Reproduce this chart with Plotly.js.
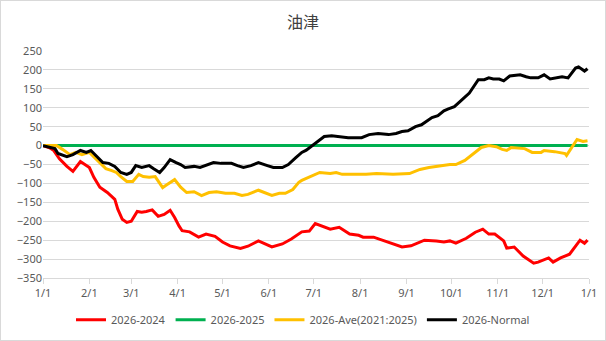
<!DOCTYPE html>
<html>
<head>
<meta charset="utf-8">
<script src="https://cdn.plot.ly/plotly-3.0.1.min.js"></script>
<style>
html,body{margin:0;padding:0;background:#fff;}
#wrap{position:relative;width:606px;height:341px;}
#chart{width:606px;height:341px;}
#frame{position:absolute;left:0;top:0;width:604px;height:339px;border:1px solid #d9d9d9;pointer-events:none;}
</style>
</head>
<body>
<div id="wrap"><div id="chart"></div><div id="frame"></div></div>
<script>
// ---- data ----
const chartTitle = "油津";
const seriesNames = ["2026-2024", "2026-2025", "2026-Ave(2021:2025)", "2026-Normal"];

const redDates = ["2026-01-01","2026-01-05","2026-01-08","2026-01-12","2026-01-17","2026-01-21","2026-01-26","2026-02-01","2026-02-04","2026-02-08","2026-02-13","2026-02-18","2026-02-20","2026-02-23","2026-02-26","2026-03-01","2026-03-05","2026-03-08","2026-03-11","2026-03-15","2026-03-19","2026-03-23","2026-03-27","2026-03-30","2026-04-02","2026-04-04","2026-04-09","2026-04-15","2026-04-20","2026-04-26","2026-05-01","2026-05-06","2026-05-13","2026-05-18","2026-05-25","2026-06-01","2026-06-03","2026-06-10","2026-06-16","2026-06-23","2026-06-28","2026-07-02","2026-07-07","2026-07-12","2026-07-18","2026-07-25","2026-07-31","2026-08-03","2026-08-10","2026-08-17","2026-08-24","2026-08-29","2026-09-04","2026-09-08","2026-09-13","2026-09-21","2026-09-26","2026-09-30","2026-10-04","2026-10-11","2026-10-17","2026-10-22","2026-10-26","2026-10-30","2026-11-05","2026-11-07","2026-11-12","2026-11-18","2026-11-25","2026-11-28","2026-12-05","2026-12-08","2026-12-13","2026-12-19","2026-12-26","2026-12-29","2026-12-31"];
const redValues = [0,-5,-12,-35,-55,-68,-42,-58,-84,-110,-124,-142,-168,-195,-203,-200,-174,-176,-174,-170,-187,-182,-171,-190,-213,-225,-228,-242,-234,-240,-255,-265,-272,-266,-252,-266,-268,-260,-247,-228,-226,-206,-213,-221,-216,-234,-237,-242,-242,-252,-260,-268,-265,-258,-250,-252,-255,-252,-258,-245,-229,-221,-234,-234,-252,-271,-268,-292,-311,-308,-297,-308,-297,-287,-250,-258,-250];

const greenDates = ["2026-01-01","2026-12-31"];
const greenValues = [0,0];

const orangeDates = ["2026-01-01","2026-01-10","2026-01-14","2026-01-19","2026-01-23","2026-01-27","2026-02-01","2026-02-03","2026-02-08","2026-02-12","2026-02-16","2026-02-19","2026-02-22","2026-02-26","2026-03-02","2026-03-06","2026-03-09","2026-03-13","2026-03-17","2026-03-22","2026-03-25","2026-03-30","2026-04-03","2026-04-07","2026-04-12","2026-04-17","2026-04-22","2026-04-27","2026-05-03","2026-05-09","2026-05-14","2026-05-18","2026-05-25","2026-05-29","2026-06-03","2026-06-08","2026-06-12","2026-06-17","2026-06-21","2026-06-23","2026-06-29","2026-07-02","2026-07-05","2026-07-12","2026-07-16","2026-07-20","2026-08-05","2026-08-12","2026-08-23","2026-09-03","2026-09-10","2026-09-16","2026-09-23","2026-09-30","2026-10-04","2026-10-10","2026-10-21","2026-10-26","2026-10-31","2026-11-04","2026-11-07","2026-11-10","2026-11-19","2026-11-24","2026-11-30","2026-12-02","2026-12-09","2026-12-16","2026-12-17","2026-12-24","2026-12-28","2026-12-31"];
const orangeValues = [0,0,-10,-24,-18,-24,-18,-26,-45,-61,-66,-71,-82,-95,-95,-76,-82,-84,-82,-111,-103,-90,-110,-124,-122,-132,-124,-122,-126,-126,-132,-129,-118,-124,-132,-126,-126,-116,-97,-92,-82,-76,-71,-74,-71,-76,-76,-74,-76,-74,-63,-58,-53,-50,-50,-39,-5,0,-3,-10,-13,-5,-8,-18,-18,-13,-16,-21,-26,16,11,13];

const blackDates = ["2026-01-01","2026-01-05","2026-01-09","2026-01-11","2026-01-17","2026-01-21","2026-01-26","2026-01-30","2026-02-02","2026-02-06","2026-02-10","2026-02-14","2026-02-18","2026-02-22","2026-02-26","2026-03-01","2026-03-04","2026-03-08","2026-03-13","2026-03-16","2026-03-20","2026-03-23","2026-03-27","2026-03-31","2026-04-03","2026-04-06","2026-04-12","2026-04-16","2026-04-21","2026-04-25","2026-04-30","2026-05-07","2026-05-11","2026-05-15","2026-05-20","2026-05-25","2026-05-31","2026-06-04","2026-06-10","2026-06-14","2026-06-19","2026-06-23","2026-06-26","2026-06-29","2026-07-03","2026-07-08","2026-07-13","2026-07-19","2026-07-24","2026-08-02","2026-08-07","2026-08-13","2026-08-20","2026-08-25","2026-08-29","2026-09-02","2026-09-07","2026-09-11","2026-09-18","2026-09-22","2026-09-26","2026-09-29","2026-10-03","2026-10-08","2026-10-13","2026-10-19","2026-10-23","2026-10-26","2026-10-29","2026-11-02","2026-11-05","2026-11-09","2026-11-16","2026-11-20","2026-11-23","2026-11-28","2026-12-02","2026-12-06","2026-12-11","2026-12-14","2026-12-18","2026-12-23","2026-12-25","2026-12-29","2026-12-31"];
const blackValues = [0,-5,-8,-21,-29,-24,-13,-18,-13,-29,-45,-47,-55,-71,-76,-71,-53,-58,-53,-61,-71,-58,-37,-45,-50,-58,-55,-58,-50,-45,-47,-47,-53,-58,-53,-45,-53,-58,-58,-50,-32,-18,-12,-3,11,24,26,24,21,21,29,32,29,32,37,39,50,55,74,79,92,97,103,121,139,174,174,179,176,176,171,184,187,182,179,179,187,176,179,182,179,205,208,197,203];

const tickDates = ["2026-01-01","2026-02-01","2026-03-01","2026-04-01","2026-05-01","2026-06-01","2026-07-01","2026-08-01","2026-09-01","2026-10-01","2026-11-01","2026-12-01","2027-01-01"];
const tickLabels = ["1/1","2/1","3/1","4/1","5/1","6/1","7/1","8/1","9/1","10/1","11/1","12/1","1/1"];
const seriesColors = ["#FF0000","#00B050","#FFC000","#000000"];

// ---- traces ----
const xs = [redDates, greenDates, orangeDates, blackDates];
const ys = [redValues, greenValues, orangeValues, blackValues];
const traces = seriesNames.map((n, i) => ({
  type: "scatter", mode: "lines", name: n,
  x: xs[i], y: ys[i],
  line: {color: seriesColors[i], width: 3}
}));
// draw order: green under others
const order = [1, 0, 2, 3];
const drawn = order.map(i => traces[i]);

const layout = {
  width: 606, height: 341,
  margin: {l: 43, r: 17, t: 51, b: 63},
  paper_bgcolor: "#fff", plot_bgcolor: "#fff",
  font: {family: "Noto Sans, Noto Sans CJK JP, sans-serif", size: 11, color: "#595959"},
  title: {text: chartTitle, x: 0.5, xref: "container", xanchor: "center", y: 0.935, yref: "container", yanchor: "middle",
          font: {family: "Noto Sans CJK JP, sans-serif", size: 16, color: "#404040"}},
  xaxis: {
    type: "date", range: ["2026-01-01", "2027-01-01"],
    tickvals: tickDates, ticktext: tickLabels,
    showgrid: false, zeroline: false,
    showline: true, linecolor: "#d9d9d9", linewidth: 1,
    ticks: "outside", ticklen: 5, tickcolor: "#d9d9d9",
    tickfont: {size: 11, color: "#595959"}
  },
  yaxis: {
    range: [-350, 250], dtick: 50, tick0: 0,
    showgrid: true, gridcolor: "#d9d9d9", gridwidth: 1,
    zeroline: false, showline: false, ticks: "",
    tickfont: {size: 11, color: "#595959"}
  },
  showlegend: true,
  legend: {
    orientation: "h", x: 0.5, xref: "container", xanchor: "center",
    y: 0.062, yref: "container", yanchor: "middle",
    traceorder: "normal",
    font: {size: 11, color: "#595959"}
  }
};

// legend order follows series order
const legendTraces = drawn.map(t => Object.assign({}, t, {legendrank: seriesNames.indexOf(t.name) + 1}));

Plotly.newPlot("chart", legendTraces, layout, {displayModeBar: false, staticPlot: true});
</script>
</body>
</html>
